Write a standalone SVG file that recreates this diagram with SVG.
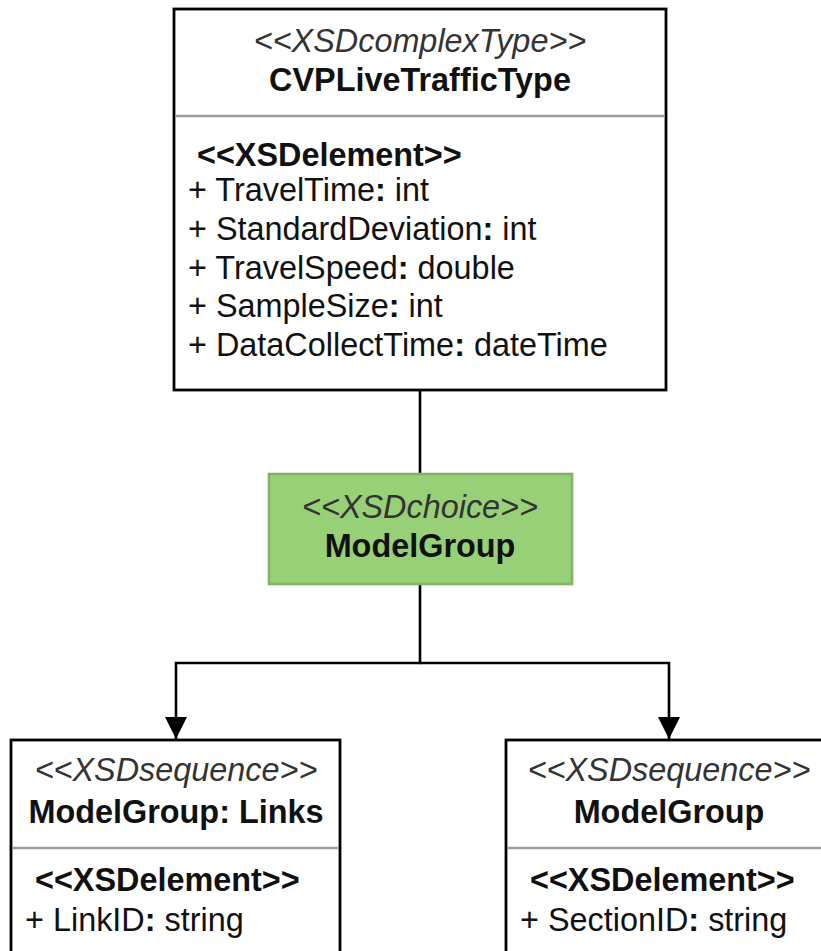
<svg xmlns="http://www.w3.org/2000/svg" width="821" height="951" viewBox="0 0 821 951">
  <style>
    text { font-family: "Liberation Sans", Arial, Helvetica, sans-serif; font-size: 32.4px; fill: #111; }
    .stereo { font-style: italic; fill: #333; text-anchor: middle; }
    .name { font-weight: bold; text-anchor: middle; }
    .sect { font-weight: bold; }
    .b { font-weight: bold; }
    .box { fill: #fff; stroke: #000; stroke-width: 2.8; }
    .green { fill: #97d077; stroke: #82b366; stroke-width: 2.6; }
    .div { stroke: #9a9a9a; stroke-width: 2.4; }
    .edge { fill: none; stroke: #000; stroke-width: 2.6; }
  </style>
  <defs>
    <marker id="arrow" viewBox="0 0 22 22" refX="22" refY="11" markerWidth="22" markerHeight="22" markerUnits="userSpaceOnUse" orient="auto">
      <path d="M0,0 L22,11 L0,22 Z" fill="#000"/>
    </marker>
  </defs>

  <!-- connectors -->
  <g id="edges">
    <path class="edge" d="M420,390 L420,474"/>
    <path class="edge" d="M420,584 L420,663 L176,663 L176,739" marker-end="url(#arrow)"/>
    <path class="edge" d="M420,663 L669,663 L669,739" marker-end="url(#arrow)"/>
  </g>

  <!-- complex type -->
  <g id="cvp-live-traffic-type">
    <rect class="box" x="174" y="9" width="492" height="381"/>
    <line class="div" x1="175" y1="116" x2="665" y2="116"/>
    <text class="stereo" x="420" y="52">&lt;&lt;XSDcomplexType&gt;&gt;</text>
    <text class="name" x="420" y="91">CVPLiveTrafficType</text>
    <text class="sect" x="197" y="166">&lt;&lt;XSDelement&gt;&gt;</text>
    <text x="188" y="201">+ TravelTime<tspan class="b">:</tspan> int</text>
    <text x="188" y="240">+ StandardDeviation<tspan class="b">:</tspan> int</text>
    <text x="188" y="279">+ TravelSpeed<tspan class="b">:</tspan> double</text>
    <text x="188" y="317">+ SampleSize<tspan class="b">:</tspan> int</text>
    <text x="188" y="356">+ DataCollectTime<tspan class="b">:</tspan> dateTime</text>
  </g>

  <!-- choice group -->
  <g id="model-group-choice">
    <rect class="green" x="269" y="474" width="303" height="110"/>
    <text class="stereo" x="420" y="518">&lt;&lt;XSDchoice&gt;&gt;</text>
    <text class="name" x="420" y="557">ModelGroup</text>
  </g>

  <!-- sequence: links -->
  <g id="model-group-links">
    <rect class="box" x="11" y="740" width="329" height="230"/>
    <line class="div" x1="12" y1="848" x2="339" y2="848"/>
    <text class="stereo" x="176" y="781">&lt;&lt;XSDsequence&gt;&gt;</text>
    <text class="name" x="176" y="823">ModelGroup: Links</text>
    <text class="sect" x="35" y="891">&lt;&lt;XSDelement&gt;&gt;</text>
    <text x="25" y="931">+ LinkID<tspan class="b">:</tspan> string</text>
  </g>

  <!-- sequence: sections -->
  <g id="model-group-sections">
    <rect class="box" x="506" y="740" width="327" height="230"/>
    <line class="div" x1="507" y1="848" x2="832" y2="848"/>
    <text class="stereo" x="669" y="781">&lt;&lt;XSDsequence&gt;&gt;</text>
    <text class="name" x="669" y="823">ModelGroup</text>
    <text class="sect" x="530" y="891">&lt;&lt;XSDelement&gt;&gt;</text>
    <text x="520" y="931">+ SectionID<tspan class="b">:</tspan> string</text>
  </g>
</svg>
